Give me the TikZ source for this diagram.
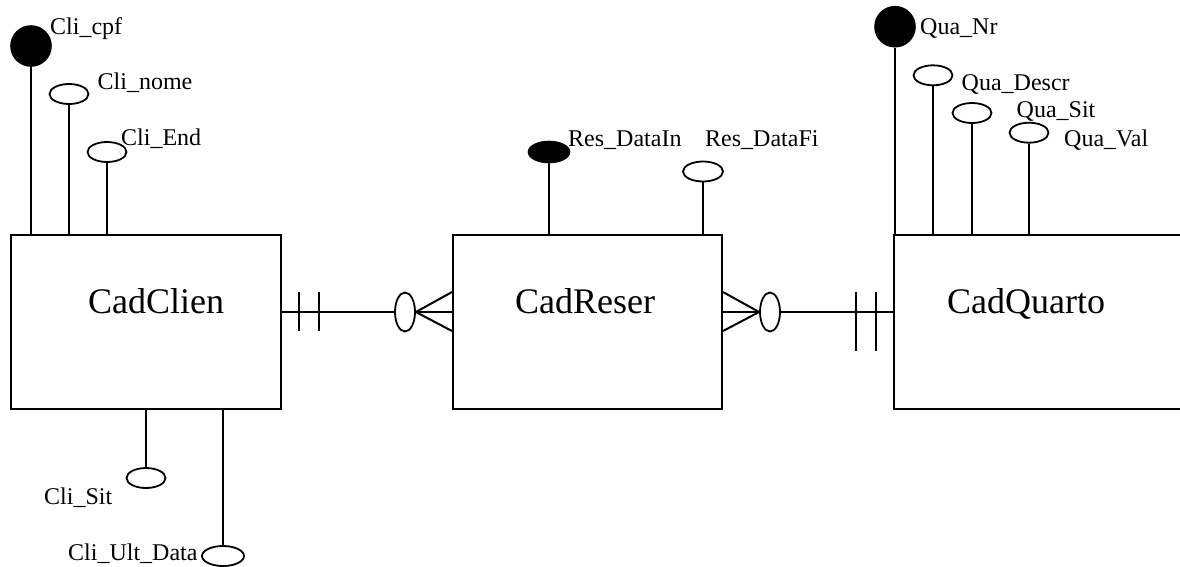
\documentclass[tikz,border=0pt]{standalone}
\usepackage{fontspec}
\setmainfont{Liberation Serif}
\usetikzlibrary{shapes.geometric}
\tikzset{
  ln/.style={line width=2pt, line cap=butt},
  entity/.style={draw, line width=2pt, rectangle, inner sep=0pt, minimum height=174pt},
  attr/.style={draw, line width=1.8pt, ellipse, inner sep=0pt, minimum width=39pt, minimum height=20pt, fill=white},
  keyattr/.style={draw, line width=1.6pt, ellipse, inner sep=0pt, fill=black},
  lbl/.style={anchor=base west, inner sep=0pt, font=\fontsize{24}{28}\selectfont},
  big/.style={anchor=base west, inner sep=0pt, font=\fontsize{36}{40}\selectfont},
  card/.style={draw, line width=1.8pt, ellipse, inner sep=0pt, minimum width=20pt, minimum height=39pt},
}
\begin{document}
\begin{tikzpicture}[x=1pt,y=-1pt]
\useasboundingbox (0,0) rectangle (1180,566);
% entities
\node[entity, minimum width=270pt] (clien) at (146,322) {};
\node[entity, minimum width=269pt] (reser) at (587.5,322) {};
\node[entity, minimum width=300pt] (quarto) at (1044,322) {};
\node[big] (tclien) at (88,313) {CadClien};
\node[big] (treser) at (515,313) {CadReser};
\node[big] (tquarto) at (947,313) {CadQuarto};
% CadClien attributes
\node[keyattr, circle, minimum size=40pt] (cpf) at (31,46) {};
\node[attr] (nome) at (69,94) {};
\node[attr] (end) at (107,152) {};
\node[attr] (sit) at (146,478) {};
\node[attr, minimum width=42pt] (ult) at (223,556) {};
\draw[ln] (cpf.south) -- (cpf.south |- clien.north);
\draw[ln] (nome.south) -- (nome.south |- clien.north);
\draw[ln] (end.south) -- (end.south |- clien.north);
\draw[ln] (sit.north) -- (sit.north |- clien.south);
\draw[ln] (ult.north) -- (ult.north |- clien.south);
\node[lbl] (lcpf) at (50,34) {Cli\_cpf};
\node[lbl] (lnome) at (97.5,89.5) {Cli\_nome};
\node[lbl] (lend) at (121,145.5) {Cli\_End};
\node[lbl] (lsit) at (44,504) {Cli\_Sit};
\node[lbl] (lult) at (68,560) {Cli\_Ult\_Data};
% CadReser attributes
\node[keyattr, minimum width=41pt, minimum height=21pt] (datain) at (549,152) {};
\node[attr, minimum width=40pt] (datafi) at (703,171.5) {};
\draw[ln] (datain.south) -- (datain.south |- reser.north);
\draw[ln] (datafi.south) -- (datafi.south |- reser.north);
\node[lbl] (ldatain) at (568,146) {Res\_DataIn};
\node[lbl] (ldatafi) at (705,146) {Res\_DataFi};
% CadQuarto attributes
\node[keyattr, circle, minimum size=40pt] (nr) at (895,26.7) {};
\node[attr] (descr) at (933,75.3) {};
\node[attr] (qsit) at (972,113) {};
\node[attr] (val) at (1029,132.7) {};
\draw[ln] (nr.south) -- (nr.south |- quarto.north);
\draw[ln] (descr.south) -- (descr.south |- quarto.north);
\draw[ln] (qsit.south) -- (qsit.south |- quarto.north);
\draw[ln] (val.south) -- (val.south |- quarto.north);
\node[lbl] (lnr) at (920,34.3) {Qua\_Nr};
\node[lbl] (ldescr) at (961.5,90) {Qua\_Descr};
\node[lbl] (lqsit) at (1016.5,117.7) {Qua\_Sit};
\node[lbl] (lval) at (1064,146.7) {Qua\_Val};
% relationship CadClien - CadReser
\node[card] (r1) at (405,312) {};
\coordinate (c1) at (clien.east |- r1.center);
\coordinate (t1) at (299,0);
\coordinate (t2) at (319,0);
\draw[ln] (c1) -- (r1.west);
\draw[ln] (t1 |- 0,292) -- (t1 |- 0,331);
\draw[ln] (t2 |- 0,292) -- (t2 |- 0,331);
\draw[ln] (reser.west |- 0,292) -- (r1.east) -- (reser.west |- 0,331);
\draw[ln] (r1.east) -- (reser.west |- r1.center);
% relationship CadReser - CadQuarto
\node[card] (r2) at (770,312) {};
\draw[ln] (reser.east |- 0,292) -- (r2.west) -- (reser.east |- 0,331);
\draw[ln] (r2.west) -- (reser.east |- r2.center);
\draw[ln] (r2.east) -- (quarto.west |- r2.center);
\coordinate (t3) at (856,0);
\coordinate (t4) at (876,0);
\draw[ln] (t3 |- 0,292) -- (t3 |- 0,351);
\draw[ln] (t4 |- 0,292) -- (t4 |- 0,351);
\end{tikzpicture}
\end{document}
